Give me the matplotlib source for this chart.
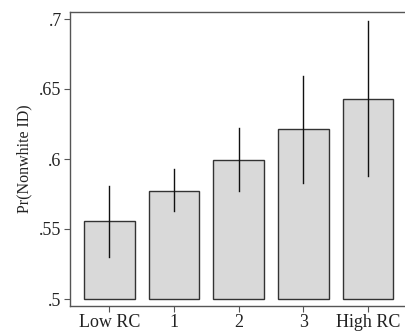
import matplotlib
matplotlib.use("Agg")
import matplotlib.pyplot as plt

categories = ["Low RC", "1", "2", "3", "High RC"]
values = [0.5554, 0.5772, 0.5991, 0.6211, 0.6429]
ci_low = [0.5303, 0.5626, 0.5769, 0.5829, 0.5877]
ci_high = [0.5805, 0.5925, 0.6221, 0.6594, 0.6988]
yticks = [0.5, 0.55, 0.6, 0.65, 0.7]
ytick_labels = [".5", ".55", ".6", ".65", ".7"]
base = 0.5

plt.rcParams['font.family'] = ['Liberation Serif', 'DejaVu Serif']

fig = plt.figure(figsize=(4.05, 3.34), dpi=100)
ax = fig.add_axes([70/405, 1-306/334, (410-70)/405, (306-12)/334])

x = list(range(len(categories)))
heights = [v - base for v in values]
ax.bar(x, heights, bottom=base, width=0.78, color="#d9d9d9",
       edgecolor="#333333", linewidth=1.0, zorder=2)
for xi, lo, hi in zip(x, ci_low, ci_high):
    ax.plot([xi, xi], [lo, hi], color="#111111", linewidth=1.0, zorder=3)

span = 64.7
ax.set_xlim(-39.3/span, 4 + (410-368)/span)
ax.set_ylim(0.495, 0.705)
ax.set_yticks(yticks)
ax.set_yticklabels(ytick_labels)
ax.set_xticks(x)
ax.set_xticklabels(categories)
ax.set_ylabel("Pr(Nonwhite ID)", fontsize=11.5, color="#222222", labelpad=5)

for s in ["left", "bottom", "top"]:
    ax.spines[s].set_color("#555555")
    ax.spines[s].set_linewidth(1.0)
ax.spines["right"].set_visible(False)
ax.tick_params(axis="both", labelsize=13, colors="#555555", labelcolor="#222222",
               length=4, width=0.8, direction="out", pad=2)

fig.savefig("out.png", dpi=100)
